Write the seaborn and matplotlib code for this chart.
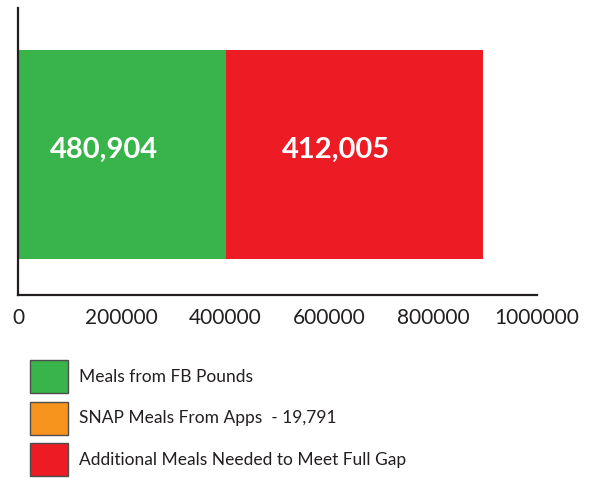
import matplotlib
matplotlib.use("Agg")
import matplotlib.pyplot as plt
from matplotlib.patches import Patch
import pandas as pd
import seaborn as sns

# segments of the single stacked bar
segments = ["Meals from FB Pounds", "SNAP Meals From Apps  - 19,791",
            "Additional Meals Needed to Meet Full Gap"]
bar_widths = [400000, 0, 495000]
value_labels = ["480,904", "", "412,005"]
colors = ["#39B44A", "#F7941D", "#ED1C24"]
x_ticks = [0, 200000, 400000, 600000, 800000, 1000000]

sns.set_style("white")
plt.rcParams["font.family"] = ["Lato", "DejaVu Sans"]

fig = plt.figure(figsize=(5.95, 4.78), dpi=100)
ax = fig.add_axes([18 / 595, 1 - 295 / 478, 519 / 595, 287 / 478])

# stack by drawing cumulative totals from the back
cum = pd.Series(bar_widths).cumsum()
for i in reversed(range(len(segments))):
    if bar_widths[i] == 0:
        continue
    df = pd.DataFrame({"cat": ["Meals"], "value": [cum[i]]})
    sns.barplot(data=df, x="value", y="cat", color=colors[i], orient="h",
                width=0.73, saturation=1, linewidth=0, ax=ax)

for i, lab in enumerate(value_labels):
    if not lab:
        continue
    start = cum[i] - bar_widths[i]
    ax.annotate(lab, xy=(start + bar_widths[i] / 2, 0), xytext=(-13, 3),
                textcoords="offset points", ha="center", va="center",
                color="white", fontsize=21, fontweight="bold")

ax.set_xlim(0, 1000000)
ax.set_ylim(0.49, -0.51)
ax.set_xticks(x_ticks)
ax.set_xticklabels([str(t) for t in x_ticks], fontsize=15, color="#231F20")
ax.set_yticks([])
ax.set_xlabel("")
ax.set_ylabel("")
ax.tick_params(axis="x", direction="in", length=5, width=1.5,
               color="#231F20", pad=9)
for side in ["top", "right"]:
    ax.spines[side].set_visible(False)
for side in ["left", "bottom"]:
    ax.spines[side].set_color("#231F20")
    ax.spines[side].set_linewidth(1.6)

handles = [Patch(facecolor=c, edgecolor="#4D4D4D", linewidth=1) for c in colors]
fig.legend(handles, segments, loc="upper left", bbox_to_anchor=(30 / 595, 1 - 360 / 478),
           frameon=False, fontsize=12.5, handlelength=2.2, handleheight=2.55,
           labelspacing=0.5, handletextpad=0.65, borderpad=0, borderaxespad=0,
           labelcolor="#231F20")

fig.savefig("out.png", dpi=100)
